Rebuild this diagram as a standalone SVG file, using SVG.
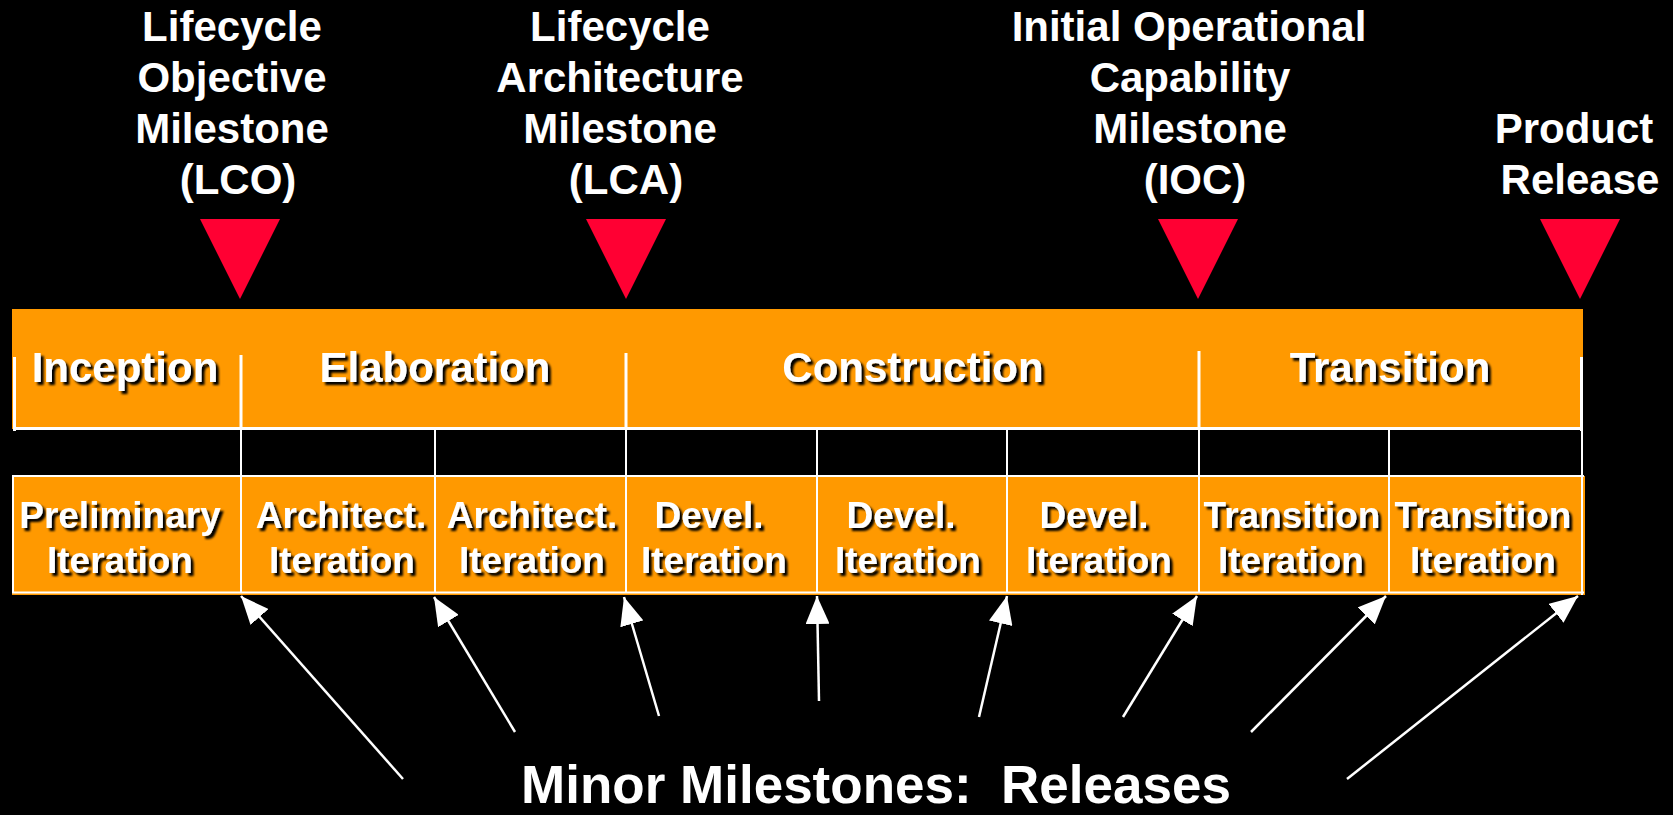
<svg xmlns="http://www.w3.org/2000/svg" width="1673" height="815" viewBox="0 0 1673 815">
<style>
.ms{font-family:"Liberation Sans",Arial,sans-serif;font-weight:bold;font-size:42px;fill:#FFFFFF;text-anchor:middle}
.ph{font-family:"Liberation Sans",Arial,sans-serif;font-weight:bold;font-size:42px;fill:#FFFFFF;text-anchor:middle;filter:url(#sh)}
.it{font-family:"Liberation Sans",Arial,sans-serif;font-weight:bold;font-size:37px;fill:#FFFFFF;text-anchor:middle;filter:url(#sh)}
.big{font-family:"Liberation Sans",Arial,sans-serif;font-weight:bold;font-size:53px;fill:#FFFFFF;text-anchor:middle;white-space:pre}
.tri{fill:#FF0033}
.band{fill:#FF9900}
.wl{stroke:#FFFFFF;stroke-width:3;fill:none}
.wt{stroke:#FFFFFF;stroke-width:2;fill:none}
.arr{stroke:#FFFFFF;stroke-width:2.5;fill:none;marker-end:url(#ah)}
</style>
<defs>
<filter id="sh" x="-10%" y="-20%" width="130%" height="150%">
<feDropShadow dx="3" dy="3" stdDeviation="0.8" flood-color="#000000" flood-opacity="1"/>
</filter>
<marker id="ah" markerUnits="userSpaceOnUse" markerWidth="28" markerHeight="24" viewBox="0 0 28 24" refX="28" refY="12" orient="auto">
<path d="M0,0 L28,12 L0,24 Z" fill="#FFFFFF"/>
</marker>
</defs>
<rect x="0" y="0" width="1673" height="815" fill="#000000"/>

<g id="milestone-lco">
<text class="ms" x="232" y="41">Lifecycle</text>
<text class="ms" x="232" y="92">Objective</text>
<text class="ms" x="232" y="143">Milestone</text>
<text class="ms" x="238" y="194">(LCO)</text>
<polygon class="tri" points="200,219 280,219 240,299"/>
</g>
<g id="milestone-lca">
<text class="ms" x="620" y="41">Lifecycle</text>
<text class="ms" x="620" y="92">Architecture</text>
<text class="ms" x="620" y="143">Milestone</text>
<text class="ms" x="626" y="194">(LCA)</text>
<polygon class="tri" points="586,219 666,219 626,299"/>
</g>
<g id="milestone-ioc">
<text class="ms" x="1189" y="41">Initial Operational</text>
<text class="ms" x="1190" y="92">Capability</text>
<text class="ms" x="1190" y="143">Milestone</text>
<text class="ms" x="1195" y="194">(IOC)</text>
<polygon class="tri" points="1158,219 1238,219 1198,299"/>
</g>
<g id="milestone-release">
<text class="ms" x="1574" y="143">Product</text>
<text class="ms" x="1580" y="194">Release</text>
<polygon class="tri" points="1540,219 1620,219 1580,299"/>
</g>

<g id="phase-band">
<rect class="band" x="12" y="309" width="1571" height="120"/>
<line class="wl" x1="14.5" y1="357" x2="14.5" y2="431"/>
<line class="wl" x1="14" y1="428.5" x2="1583" y2="428.5"/>
<line class="wl" x1="1581.5" y1="357" x2="1581.5" y2="431"/>
</g>
<g id="phase-inception">
<text class="ph" x="125" y="382">Inception</text>
</g>
<g id="phase-elaboration">
<line class="wl" x1="241" y1="355" x2="241" y2="430"/>
<text class="ph" x="435" y="382">Elaboration</text>
</g>
<g id="phase-construction">
<line class="wl" x1="626" y1="353" x2="626" y2="430"/>
<text class="ph" x="913" y="382">Construction</text>
</g>
<g id="phase-transition">
<line class="wl" x1="1199" y1="351" x2="1199" y2="430"/>
<text class="ph" x="1390" y="382">Transition</text>
</g>

<g id="gap-lines">
<line class="wt" x1="241" y1="430" x2="241" y2="476"/>
<line class="wt" x1="435" y1="430" x2="435" y2="476"/>
<line class="wt" x1="626" y1="430" x2="626" y2="476"/>
<line class="wt" x1="817" y1="430" x2="817" y2="476"/>
<line class="wt" x1="1007" y1="430" x2="1007" y2="476"/>
<line class="wt" x1="1199" y1="430" x2="1199" y2="476"/>
<line class="wt" x1="1389" y1="430" x2="1389" y2="476"/>
<line class="wt" x1="1582" y1="430" x2="1582" y2="476"/>
</g>

<g id="iteration-band">
<rect class="band" x="12" y="476" width="1573" height="119"/>
<line class="wt" x1="12" y1="476" x2="1584" y2="476"/>
<line class="wt" x1="12" y1="592.5" x2="1584" y2="592.5"/>
<line class="wt" x1="13" y1="477" x2="13" y2="593"/>
<line class="wt" x1="1582" y1="476" x2="1582" y2="595"/>
</g>
<g id="iter-1">
<text class="it" x="120" y="528">Preliminary</text>
<text class="it" x="120" y="573">Iteration</text>
</g>
<g id="iter-2">
<line class="wt" x1="241" y1="476" x2="241" y2="593"/>
<text class="it" x="341" y="528">Architect.</text>
<text class="it" x="342" y="573">Iteration</text>
</g>
<g id="iter-3">
<line class="wt" x1="435" y1="476" x2="435" y2="593"/>
<text class="it" x="532" y="528">Architect.</text>
<text class="it" x="532" y="573">Iteration</text>
</g>
<g id="iter-4">
<line class="wt" x1="626" y1="476" x2="626" y2="593"/>
<text class="it" x="709" y="528">Devel.</text>
<text class="it" x="714" y="573">Iteration</text>
</g>
<g id="iter-5">
<line class="wt" x1="817" y1="476" x2="817" y2="593"/>
<text class="it" x="901" y="528">Devel.</text>
<text class="it" x="908" y="573">Iteration</text>
</g>
<g id="iter-6">
<line class="wt" x1="1007" y1="476" x2="1007" y2="593"/>
<text class="it" x="1094" y="528">Devel.</text>
<text class="it" x="1099" y="573">Iteration</text>
</g>
<g id="iter-7">
<line class="wt" x1="1199" y1="476" x2="1199" y2="593"/>
<text class="it" x="1292" y="528">Transition</text>
<text class="it" x="1291" y="573">Iteration</text>
</g>
<g id="iter-8">
<line class="wt" x1="1389" y1="476" x2="1389" y2="593"/>
<text class="it" x="1483" y="528">Transition</text>
<text class="it" x="1483" y="573">Iteration</text>
</g>

<g id="connectors">
<line class="arr" x1="403" y1="779" x2="241" y2="596"/>
<line class="arr" x1="515" y1="732" x2="434" y2="597"/>
<line class="arr" x1="659" y1="716" x2="624" y2="597"/>
<line class="arr" x1="819" y1="701" x2="817" y2="596"/>
<line class="arr" x1="979" y1="717" x2="1007" y2="596"/>
<line class="arr" x1="1123" y1="717" x2="1197" y2="596"/>
<line class="arr" x1="1251" y1="732" x2="1386" y2="596"/>
<line class="arr" x1="1347" y1="779" x2="1578" y2="596"/>
</g>

<g id="minor-milestones">
<text class="big" x="876" y="803" xml:space="preserve">Minor Milestones:  Releases</text>
</g>
</svg>
